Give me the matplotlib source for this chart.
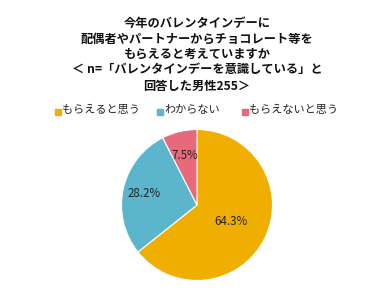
import numpy as np
import matplotlib.pyplot as plt

plt.rcParams['font.family'] = ['Noto Sans CJK JP', 'DejaVu Sans']

labels = ["もらえると思う", "わからない", "もらえないと思う"]
values = [64.3, 28.2, 7.5]
colors = ["#F0AE00", "#5BB5CD", "#E8697C"]
title_lines = ["今年のバレンタインデーに",
               "配偶者やパートナーからチョコレート等を",
               "もらえると考えていますか",
               "＜ n=「バレンタインデーを意識している」と",
               "回答した男性255＞"]

fig = plt.figure(figsize=(3.84, 2.91), dpi=100)
fig.patch.set_facecolor("white")

# title
ys = [23, 39, 54, 69, 86]
for line, y in zip(title_lines, ys):
    fig.text(197 / 384, 1 - y / 291, line, ha="center", va="center",
             fontsize=8.8, fontweight="bold", color="#111111")

# legend
leg_x = [55, 157, 242]
for lab, c, x in zip(labels, colors, leg_x):
    fig.patches.append(plt.Rectangle((x / 384, 1 - 115 / 291), 6 / 384, 6 / 291,
                                     transform=fig.transFigure, color=c))
    fig.text((x + 7) / 384, 1 - 110 / 291, lab, ha="left", va="center",
             fontsize=8, color="#222222")

# pie
cx, cy, r = 197, 205, 77
ax = fig.add_axes([(cx - r) / 384, (291 - cy - r) / 291, 2 * r / 384, 2 * r / 291])
wedges, texts, autotexts = ax.pie(values, colors=colors, startangle=90,
                                  counterclock=False, radius=1,
                                  autopct="%.1f%%", pctdistance=0.6,
                                  wedgeprops=dict(linewidth=0.8, edgecolor="white"),
                                  textprops=dict(fontsize=8.3, color="#222222"))
dists = [0.5, 0.72, 0.67]
for w, t, d in zip(wedges, autotexts, dists):
    a = np.deg2rad((w.theta1 + w.theta2) / 2)
    t.set_position((d * np.cos(a), d * np.sin(a)))
ax.set_xlim(-1.02, 1.02)
ax.set_ylim(-1.02, 1.02)
ax.set_aspect("equal")
ax.axis("off")

fig.savefig("out.png", dpi=100)
